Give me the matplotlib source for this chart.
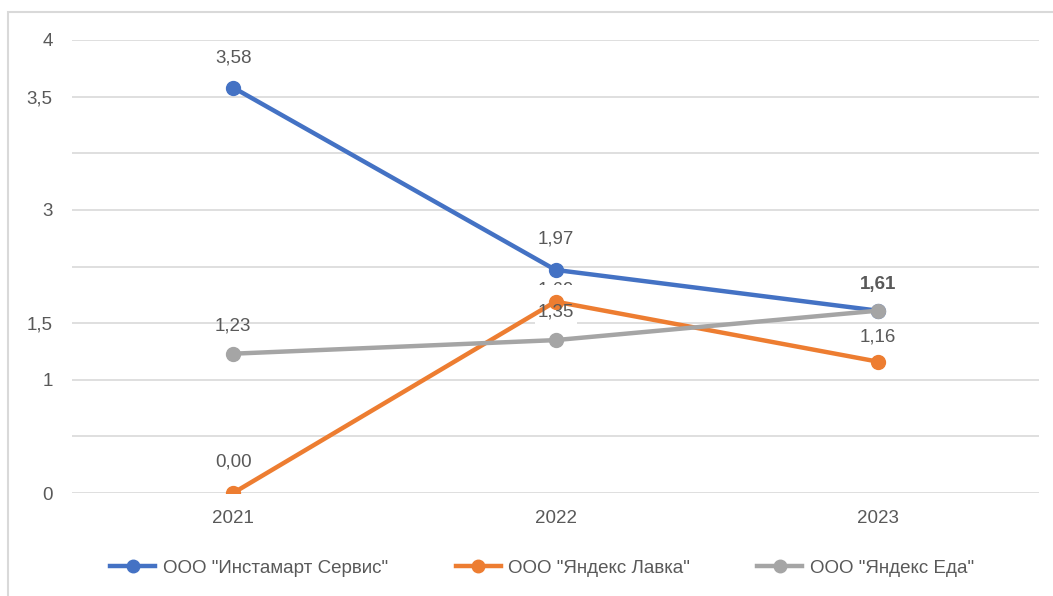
import matplotlib.pyplot as plt
from matplotlib.lines import Line2D

plt.rcParams["font.family"] = ["Liberation Sans Narrow", "Liberation Sans", "DejaVu Sans"]

# данные
years = ["2021", "2022", "2023"]
instamart = [3.58, 1.97, 1.61]
lavka = [0.00, 1.69, 1.16]
eda = [1.23, 1.35, 1.61]
names = ['ООО "Инстамарт Сервис"', 'ООО "Яндекс Лавка"', 'ООО "Яндекс Еда"']
colors = ["#4472C4", "#ED7D31", "#A5A5A5"]

# странные подписи оси Y, как в оригинале
yticks = [0, 0.5, 1, 1.5, 2, 2.5, 3, 3.5, 4]
ylabels = ["0", "", "1", "1,5", "", "3", "", "3,5", "4"]

# смещения подписей данных (pt)
off_instamart = [21, 22, 0]
off_lavka = [22, 8, 18]
off_eda = [20, 20, 19]

txt = "#595959"
fs = 13.5
fig = plt.figure(figsize=(10.53, 5.96), dpi=100)
ax = fig.add_axes([72 / 1053, 1 - 493 / 596, 967 / 1053, 453 / 596])

x = range(len(years))
series = [instamart, lavka, eda]
for vals, c in zip(series, colors):
    ax.plot(x, vals, color=c, lw=3.2, marker="o", ms=10, zorder=3)

def fmt(v):
    return f"{v:.2f}".replace(".", ",")

def label(i, v, off, z=5, **kw):
    ax.annotate(fmt(v), (i, v), xytext=(0, off), textcoords="offset points",
                ha="center", va="center", fontsize=fs, color=txt, zorder=z, **kw)

# подписи данных
for i, v in enumerate(instamart[:2]):
    label(i, v, off_instamart[i])
for i, v in enumerate(lavka):
    label(i, v, off_lavka[i], z=2 if i == 1 else 5)
for i, v in enumerate(eda):
    if i == 1:
        # белая подложка, частично закрывающая соседнюю подпись
        ax.annotate("\n" + fmt(v) + "\n", (i, v), xytext=(0, off_eda[i] + 2), textcoords="offset points",
                    ha="center", va="center", fontsize=fs, color="none", zorder=2.5,
                    linespacing=0.7,
                    bbox=dict(boxstyle="square,pad=0.15", fc="white", ec="none"))
    label(i, v, off_eda[i], fontweight="bold" if i == 2 else "normal")

ax.set_xlim(-0.5, 2.5)
ax.set_ylim(0, 4)
ax.set_xticks(list(x))
ax.set_xticklabels(years, fontsize=fs, color=txt)
ax.set_yticks(yticks)
ax.set_yticklabels(ylabels, fontsize=fs, color=txt)
ax.tick_params(length=0, pad=14)
ax.tick_params(axis="x", pad=12)
ax.grid(axis="y", color="#D9D9D9", lw=1.2, zorder=0)
for s in ax.spines.values():
    s.set_visible(False)

handles = [Line2D([], [], color=c, lw=3.2, marker="o", ms=9) for c in colors]
fig.legend(handles, names, loc="center", bbox_to_anchor=(0.515, 1 - 568 / 596), ncol=3,
           frameon=False, fontsize=fs, handlelength=2.4, columnspacing=3.6, handletextpad=0.4,
           labelcolor=txt)

# рамка области диаграммы
fig.add_artist(plt.Rectangle((8 / 1053, -0.1), 1.2, 1 - 12 / 596 + 0.1, transform=fig.transFigure,
                             fill=False, ec="#D9D9D9", lw=1.5))

fig.savefig("out.png", dpi=100)
